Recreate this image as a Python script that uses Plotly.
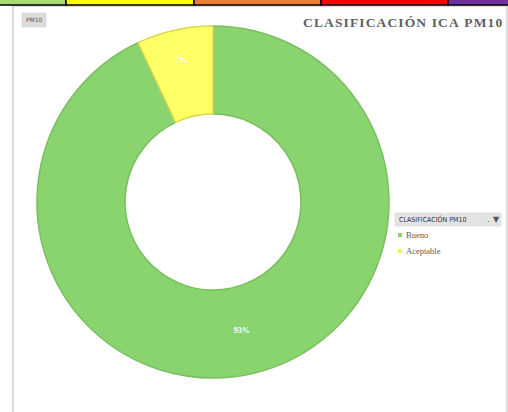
import plotly.graph_objects as go

W, H = 508, 412

# Data
labels = ["Bueno", "Aceptable"]
values = [93, 7]
colors = ["#8AD470", "#FFFF66"]
edge_colors = ["#79BF5F", "#D9D94E"]

title_text = "CLASIFICACIÓN ICA PM10"
legend_title = "CLASIFICACIÓN PM10"
field_button = "PM10"

# header strip (colored cells above the chart)
strip_colors = ["#A9DA74", "#FFFF00", "#ED7D31", "#FF0000", "#7030A0"]
strip_edges = [-2, 66, 194, 321, 448, 512]


def px(x):
    return x / W


def py(y):
    return 1 - y / H


def spaced(s):
    # small letter spacing as in the original title
    return "\u200a".join(s)


fig = go.Figure()

fig.add_trace(go.Pie(
    labels=labels,
    values=values,
    hole=0.5,
    sort=False,
    direction="clockwise",
    rotation=0,
    marker=dict(colors=colors, line=dict(color=edge_colors, width=1.5)),
    texttemplate="<b>%{percent:.0%}</b>",
    textposition="inside",
    insidetextorientation="horizontal",
    textfont=dict(family="Liberation Serif", size=8, color="white"),
    domain=dict(x=[px(213 - 176), px(213 + 176)], y=[py(202 + 176), py(202 - 176)]),
    showlegend=False,
    hoverinfo="label+percent",
))

shapes = []
# outer frame
shapes.append(dict(type="rect", xref="paper", yref="paper",
                   x0=px(13), x1=px(507), y0=py(414), y1=py(6),
                   line=dict(color="#D0D0D0", width=1.5), fillcolor="white", layer="below"))
# strip cells
for i, c in enumerate(strip_colors):
    shapes.append(dict(type="rect", xref="paper", yref="paper",
                       x0=px(strip_edges[i]), x1=px(strip_edges[i + 1]),
                       y0=py(5), y1=py(-3),
                       line=dict(color="black", width=1.5), fillcolor=c, layer="above"))
# field button
shapes.append(dict(type="rect", xref="paper", yref="paper",
                   x0=px(22), x1=px(46), y0=py(27), y1=py(13),
                   line=dict(color="#C8C8C8", width=0.5), fillcolor="#DCDCDC"))
# legend header box
shapes.append(dict(type="rect", xref="paper", yref="paper",
                   x0=px(395), x1=px(501), y0=py(226), y1=py(213),
                   line=dict(color="#D0D0D0", width=0.5), fillcolor="#E3E3E3"))

annotations = []
annotations.append(dict(text=field_button, xref="paper", yref="paper",
                        x=px(34), y=py(20), xanchor="center", yanchor="middle",
                        showarrow=False, font=dict(family="DejaVu Sans", size=6, color="#555555")))
annotations.append(dict(text="<b>" + spaced(title_text) + "</b>", xref="paper", yref="paper",
                        x=px(504), y=py(23), xanchor="right", yanchor="middle",
                        showarrow=False, font=dict(family="Liberation Serif", size=13.5, color="#606060")))
annotations.append(dict(text=legend_title, xref="paper", yref="paper",
                        x=px(397), y=py(219.5), xanchor="left", yanchor="middle",
                        showarrow=False,
                        font=dict(family="Liberation Sans Narrow, DejaVu Sans Condensed, Liberation Sans", size=7, color="#333333")))
annotations.append(dict(text="▼", xref="paper", yref="paper",
                        x=px(496), y=py(219.5), xanchor="center", yanchor="middle",
                        showarrow=False, font=dict(family="DejaVu Sans", size=8, color="#555555")))
annotations.append(dict(text=".", xref="paper", yref="paper",
                        x=px(488), y=py(219.5), xanchor="center", yanchor="middle",
                        showarrow=False, font=dict(family="DejaVu Sans", size=8, color="#555555")))

item_y = [235, 251]
for i, lab in enumerate(labels):
    shapes.append(dict(type="rect", xref="paper", yref="paper",
                       x0=px(398), x1=px(402), y0=py(item_y[i] + 2), y1=py(item_y[i] - 2),
                       line=dict(width=0), fillcolor=colors[i] if i == 0 else "#F2F24A"))
    annotations.append(dict(text=lab, xref="paper", yref="paper",
                            x=px(404), y=py(item_y[i]), xanchor="left", yanchor="middle",
                            showarrow=False, font=dict(family="Liberation Serif", size=8.5, color="#595959")))

fig.update_layout(
    width=W, height=H,
    margin=dict(l=0, r=0, t=0, b=0),
    paper_bgcolor="white",
    plot_bgcolor="white",
    shapes=shapes,
    annotations=annotations,
)

fig.write_html("out.html")
